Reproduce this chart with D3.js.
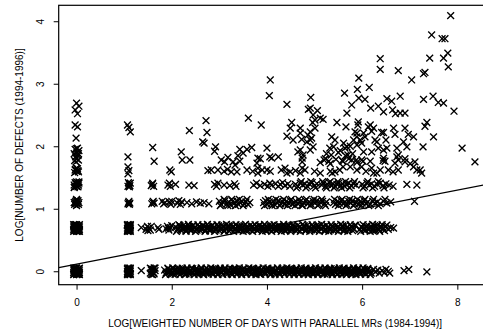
<!DOCTYPE html>
<html>
<head>
<meta charset="utf-8">
<script src="https://cdn.jsdelivr.net/npm/d3@7"></script>
<style>
  html, body { margin: 0; padding: 0; background: #fff; }
  svg { display: block; }
</style>
</head>
<body>
<svg id="chart" width="483" height="335"></svg>
<script>
// Axis ticks and titles
const xTicks = [0, 2, 4, 6, 8];
const yTicks = [0, 1, 2, 3, 4];
const xTitle = "LOG[WEIGHTED NUMBER OF DAYS WITH PARALLEL MRs (1984-1994)]";
const yTitle = "LOG[NUMBER OF DEFECTS (1994-1996)]";

// Least-squares fit: defects = intercept + slope * days (log scale)
const fitIntercept = 0.113;
const fitSlope = 0.148;

// Points: [log weighted days, log defects], jittered as plotted
const oneDefect = [
  [-.05,-.04],[-.05,0],[-.05,.035],[-.025,-.02],[-.025,.02],[0,-.04],[0,0],[0,.04],[.025,-.02],[.025,.02],[.05,-.035],[.05,0],[.05,.04],[-.04,.01],[.04,-.01],
  [-.06,-.055],[-.06,.05],[.06,-.055],[.06,.05],[0,-.055],[0,.055],[-.03,.05],[.03,-.05],[-.015,0],[.015,0],
  [-.06,-.02],[-.06,.02],[.06,-.02],[.06,.02],[-.03,-.035],[.03,.035],[-.045,.045],[.045,-.045],[-.015,.045],[.015,-.045],
  [1.07,-.04],[1.07,0],[1.07,.035],[1.085,-.02],[1.085,.02],[1.1,-.04],[1.1,0],[1.1,.04],[1.115,-.02],[1.115,.02],[1.13,-.035],[1.13,0],[1.13,.04],
  [1.07,-.055],[1.07,.05],[1.13,-.055],[1.13,.05],[1.1,-.055],[1.1,.055],[1.09,0],[1.11,.01],
  [1.075,-.02],[1.125,.02],[1.1,.02],[1.1,-.02],
  [1.36,.01],
  [1.55,-.03],[1.57,.02],[1.59,-.01],[1.61,.03],[1.63,-.04],[1.65,.01],[1.58,.04],[1.62,-.02],
  [1.55,.05],[1.6,-.055],[1.65,.05],[1.57,-.05],[1.63,.055],
  [1.85,.02],[1.88,-.03],[1.92,.04],[1.95,-.01],[1.99,.01],[2.02,-.04],[2.06,.03],[2.09,-.02],[2.13,0],[2.16,.04],
  [2.2,-.03],[2.23,.02],[2.27,-.01],[2.3,-.04],[2.34,.03],[2.37,0],[2.41,-.02],[2.44,.04],[2.48,.01],[2.51,-.03],
  [2.55,.02],[2.58,-.01],[2.62,.04],[2.65,-.04],[2.69,.01],[2.72,-.02],[2.76,.03],[2.79,0],[2.83,-.03],[2.86,.04],
  [2.9,-.01],[2.93,.02],[2.97,-.04],[3.0,.03],[3.04,-.02],[3.07,.01],[3.11,.04],[3.14,-.03],[3.18,0],[3.21,.02],
  [3.25,-.04],[3.28,.03],[3.32,-.01],[3.35,.04],[3.39,-.02],[3.42,.01],[3.46,-.03],[3.49,.03],[3.53,0],[3.56,-.04],
  [3.6,.02],[3.63,-.01],[3.67,.04],[3.7,-.03],[3.74,.01],[3.77,-.02],[3.81,.03],[3.84,-.04],[3.88,.02],[3.91,0],
  [3.95,-.03],[3.98,.04],[4.02,-.01],[4.05,.02],[4.09,-.04],[4.12,.03],[4.16,-.02],[4.19,.01],[4.23,.04],[4.26,-.03],
  [4.3,0],[4.33,.02],[4.37,-.04],[4.4,.03],[4.44,-.01],[4.47,.04],[4.51,-.02],[4.54,.01],[4.58,-.03],[4.61,.03],
  [4.65,0],[4.68,-.04],[4.72,.02],[4.75,-.01],[4.79,.04],[4.82,-.03],[4.86,.01],[4.89,-.02],[4.93,.03],[4.96,-.04],
  [5.0,.02],[5.03,0],[5.07,-.03],[5.1,.04],[5.14,-.01],[5.17,.02],[5.21,-.04],[5.24,.03],[5.28,-.02],[5.31,.01],
  [5.35,.04],[5.38,-.03],[5.42,0],[5.45,.02],[5.49,-.04],[5.52,.03],[5.56,-.01],[5.59,.04],[5.63,-.02],[5.66,.01],
  [5.7,-.03],[5.73,.03],[5.77,0],[5.8,-.04],[5.84,.02],[5.87,-.01],[5.91,.04],[5.94,-.03],[5.98,.01],[6.01,-.02],
  [6.05,.03],[6.08,-.04],[6.12,.02],[6.15,0],[6.19,-.03],
  [1.87,-.055],[1.92,.05],[1.97,-.045],[2.02,.055],[2.07,-.05],[2.12,.045],[2.17,-.055],[2.22,.05],[2.27,-.05],[2.32,.055],
  [2.37,-.045],[2.42,.05],[2.47,-.055],[2.52,.045],[2.57,-.05],[2.62,.055],[2.67,-.055],[2.72,.05],[2.77,-.045],[2.82,.055],
  [2.87,-.05],[2.92,.045],[2.97,-.055],[3.02,.05],[3.07,-.05],[3.12,.055],[3.17,-.045],[3.22,.05],[3.27,-.055],[3.32,.045],
  [3.37,-.05],[3.42,.055],[3.47,-.055],[3.52,.05],[3.57,-.045],[3.62,.055],[3.67,-.05],[3.72,.045],[3.77,-.055],[3.82,.05],
  [3.87,-.05],[3.92,.055],[3.97,-.045],[4.02,.05],[4.07,-.055],[4.12,.045],[4.17,-.05],[4.22,.055],[4.27,-.055],[4.32,.05],
  [4.37,-.045],[4.42,.055],[4.47,-.05],[4.52,.045],[4.57,-.055],[4.62,.05],[4.67,-.05],[4.72,.055],[4.77,-.045],[4.82,.05],
  [4.87,-.055],[4.92,.045],[4.97,-.05],[5.02,.055],[5.07,-.055],[5.12,.05],[5.17,-.045],[5.22,.055],[5.27,-.05],[5.32,.045],
  [5.37,-.055],[5.42,.05],[5.47,-.05],[5.52,.055],[5.57,-.045],[5.62,.05],[5.67,-.055],[5.72,.045],[5.77,-.05],[5.82,.055],
  [5.87,-.055],[5.92,.05],[5.97,-.045],[6.02,.055],[6.07,-.05],[6.12,.045],[6.17,-.055],
  [1.9,-.015],[1.95,.02],[2.0,-.025],[2.05,.01],[2.1,.025],[2.15,-.01],[2.2,.015],[2.25,-.02],[2.3,.02],[2.35,-.015],
  [2.4,.01],[2.45,-.025],[2.5,.025],[2.55,-.01],[2.6,.015],[2.65,-.02],[2.7,.02],[2.75,-.015],[2.8,.01],[2.85,-.025],
  [2.9,.025],[2.95,-.01],[3.0,.015],[3.05,-.02],[3.1,.02],[3.15,-.015],[3.2,.01],[3.25,-.025],[3.3,.025],[3.35,-.01],
  [3.4,.015],[3.45,-.02],[3.5,.02],[3.55,-.015],[3.6,.01],[3.65,-.025],[3.7,.025],[3.75,-.01],[3.8,.015],[3.85,-.02],
  [3.9,.02],[3.95,-.015],[4.0,.01],[4.05,-.025],[4.1,.025],[4.15,-.01],[4.2,.015],[4.25,-.02],[4.3,.02],[4.35,-.015],
  [4.4,.01],[4.45,-.025],[4.5,.025],[4.55,-.01],[4.6,.015],[4.65,-.02],[4.7,.02],[4.75,-.015],[4.8,.01],[4.85,-.025],
  [4.9,.025],[4.95,-.01],[5.0,.015],[5.05,-.02],[5.1,.02],[5.15,-.015],[5.2,.01],[5.25,-.025],[5.3,.025],[5.35,-.01],
  [5.4,.015],[5.45,-.02],[5.5,.02],[5.55,-.015],[5.6,.01],[5.65,-.025],[5.7,.025],[5.75,-.01],[5.8,.015],[5.85,-.02],
  [5.9,.02],[5.95,-.015],[6.0,.01],[6.05,-.025],[6.1,.025],[6.15,-.01],
  [6.24,.03],[6.28,-.01],[6.33,.02],[6.36,-.03],[6.42,.01],[6.47,-.02],[6.5,.03],[6.55,0],[6.58,-.03],
  [6.88,.01],[6.98,.03],[7.36,-.01]
];

const twoDefects = [
  [-.05,.65],[-.05,.69],[-.05,.73],[-.025,.67],[-.025,.71],[0,.65],[0,.69],[0,.73],[.025,.67],[.025,.71],[.05,.66],[.05,.69],[.05,.73],[-.04,.70],[.04,.68],
  [-.06,.64],[-.06,.745],[.06,.64],[.06,.745],[0,.64],[0,.745],[-.03,.745],[.03,.64],[-.015,.69],[.015,.69],
  [-.06,.67],[-.06,.71],[.06,.67],[.06,.71],[-.03,.655],[.03,.73],[-.045,.74],[.045,.645],[-.015,.74],[.015,.645],
  [1.07,.65],[1.07,.69],[1.07,.73],[1.085,.67],[1.085,.71],[1.1,.65],[1.1,.69],[1.1,.73],[1.115,.67],[1.115,.71],[1.13,.66],[1.13,.69],[1.13,.73],
  [1.07,.64],[1.07,.745],[1.13,.64],[1.13,.745],[1.1,.64],[1.1,.745],[1.09,.69],[1.11,.70],
  [1.075,.67],[1.125,.71],[1.1,.71],[1.1,.67],
  [1.36,.70],
  [1.46,.67],[1.49,.72],[1.52,.69],[1.55,.66],[1.57,.72],[1.5,.65],
  [1.71,.70],[1.73,.67],
  [1.88,.68],[1.91,.72],[1.94,.66],[1.97,.70],[2.0,.73],[1.93,.69],
  [2.08,.71],[2.12,.66],[2.17,.73],[2.21,.68],[2.26,.70],[2.3,.65],[2.35,.72],[2.39,.67],[2.44,.73],[2.48,.69],
  [2.53,.66],[2.57,.71],[2.62,.68],[2.66,.73],[2.71,.65],[2.75,.70],[2.8,.67],[2.84,.72],[2.89,.69],[2.93,.66],
  [2.98,.73],[3.02,.68],[3.07,.71],[3.11,.65],[3.16,.70],[3.2,.73],[3.25,.67],[3.29,.72],[3.34,.69],[3.38,.66],
  [3.43,.71],[3.47,.68],[3.52,.73],[3.56,.65],[3.61,.70],[3.65,.67],[3.7,.72],[3.74,.69],[3.79,.66],[3.83,.73],
  [3.88,.68],[3.92,.71],[3.97,.65],[4.01,.70],[4.06,.67],[4.1,.73],[4.15,.69],[4.19,.66],[4.24,.72],[4.28,.68],
  [4.33,.71],[4.37,.65],[4.42,.70],[4.46,.73],[4.51,.67],[4.55,.72],[4.6,.69],[4.64,.66],[4.69,.71],[4.73,.68],
  [4.78,.73],[4.82,.65],[4.87,.70],[4.91,.67],[4.96,.72],[5.0,.69],[5.05,.66],[5.09,.73],[5.14,.68],[5.18,.71],
  [5.23,.65],[5.27,.70],[5.32,.67],[5.36,.72],[5.41,.69],[5.45,.66],[5.5,.71],[5.54,.68],[5.59,.73],[5.63,.65],
  [5.68,.70],[5.72,.67],[5.77,.72],[5.81,.69],[5.86,.73],
  [5.95,.67],[5.99,.71],[6.04,.66],[6.08,.72],[6.13,.68],[6.17,.70],[6.22,.65],[6.26,.73],[6.31,.69],[6.35,.66],
  [6.4,.71],[6.44,.68],[6.49,.72],[6.55,.67],[6.6,.70],[6.66,.69],
  [2.1,.64],[2.15,.745],[2.2,.65],[2.25,.74],[2.3,.64],[2.35,.75],[2.4,.645],[2.45,.74],[2.5,.64],[2.55,.745],
  [2.6,.65],[2.65,.74],[2.7,.64],[2.75,.75],[2.8,.645],[2.85,.74],[2.9,.64],[2.95,.745],[3.0,.65],[3.05,.74],
  [3.1,.64],[3.15,.75],[3.2,.645],[3.25,.74],[3.3,.64],[3.35,.745],[3.4,.65],[3.45,.74],[3.5,.64],[3.55,.75],
  [3.6,.645],[3.65,.74],[3.7,.64],[3.75,.745],[3.8,.65],[3.85,.74],[3.9,.64],[3.95,.75],[4.0,.645],[4.05,.74],
  [4.1,.64],[4.15,.745],[4.2,.65],[4.25,.74],[4.3,.64],[4.35,.75],[4.4,.645],[4.45,.74],[4.5,.64],[4.55,.745],
  [4.6,.65],[4.65,.74],[4.7,.64],[4.75,.75],[4.8,.645],[4.85,.74],[4.9,.64],[4.95,.745],[5.0,.65],[5.05,.74],
  [5.1,.64],[5.15,.75],[5.2,.645],[5.25,.74],[5.3,.64],[5.35,.745],[5.4,.65],[5.45,.74],[5.5,.64],[5.55,.75],
  [5.6,.645],[5.65,.74],[5.7,.64],[5.75,.745],[5.8,.65],[5.85,.74],
  [5.97,.64],[6.02,.745],[6.07,.65],[6.12,.74],[6.17,.64],[6.22,.75],[6.27,.645],[6.32,.74],[6.37,.64],[6.42,.745],[6.47,.65],[6.52,.74],
  [2.13,.68],[2.18,.71],[2.23,.675],[2.28,.705],[2.33,.685],[2.38,.715],[2.43,.67],[2.48,.70],[2.53,.68],[2.58,.71],
  [2.63,.675],[2.68,.705],[2.73,.685],[2.78,.715],[2.83,.67],[2.88,.70],[2.93,.68],[2.98,.71],[3.03,.675],[3.08,.705],
  [3.13,.685],[3.18,.715],[3.23,.67],[3.28,.70],[3.33,.68],[3.38,.71],[3.43,.675],[3.48,.705],[3.53,.685],[3.58,.715],
  [3.63,.67],[3.68,.70],[3.73,.68],[3.78,.71],[3.83,.675],[3.88,.705],[3.93,.685],[3.98,.715],[4.03,.67],[4.08,.70],
  [4.13,.68],[4.18,.71],[4.23,.675],[4.28,.705],[4.33,.685],[4.38,.715],[4.43,.67],[4.48,.70],[4.53,.68],[4.58,.71],
  [4.63,.675],[4.68,.705],[4.73,.685],[4.78,.715],[4.83,.67],[4.88,.70],[4.93,.68],[4.98,.71],[5.03,.675],[5.08,.705],
  [5.13,.685],[5.18,.715],[5.23,.67],[5.28,.70],[5.33,.68],[5.38,.71],[5.43,.675],[5.48,.705],[5.53,.685],[5.58,.715],
  [5.63,.67],[5.68,.70],[5.73,.68],[5.78,.71],[5.83,.675],
  [6.0,.70],[6.05,.68],[6.1,.71],[6.15,.675],[6.2,.705],[6.25,.685],[6.3,.715],[6.35,.67],[6.4,.70],[6.45,.68]
];

const threeDefects = [
  [-.04,1.07],[-.02,1.12],[0,1.08],[.02,1.11],[.04,1.07],[-.03,1.1],[.03,1.13],[0,1.13],
  [-.05,1.1],[.05,1.1],[0,1.05],[0,1.15],
  [1.08,1.08],[1.1,1.12],[1.12,1.09],[1.09,1.1],[1.11,1.07],
  [1.58,1.08],[1.61,1.12],[1.63,1.09],[1.6,1.1],
  [1.8,1.12],[1.83,1.08],[1.86,1.1],[1.95,1.11],[1.98,1.07],[2.0,1.12],
  [2.12,1.09],[2.15,1.13],[2.18,1.07],[2.21,1.11],
  [2.32,1.1],[2.42,1.08],[2.52,1.11],[2.6,1.09],[2.68,1.1],[2.78,1.08],
  [3.0,1.12],[3.04,1.07],[3.08,1.1],[3.12,1.13],[3.16,1.08],[3.2,1.11],[3.24,1.06],[3.28,1.12],[3.32,1.09],
  [3.36,1.13],[3.4,1.07],[3.44,1.1],[3.48,1.12],[3.52,1.08],[3.56,1.11],[3.6,1.07],[3.64,1.1],
  [3.02,1.05],[3.1,1.15],[3.18,1.05],[3.26,1.15],[3.34,1.05],[3.42,1.15],[3.5,1.05],[3.58,1.15],
  [3.93,1.1],[3.97,1.13],[4.01,1.07],[4.05,1.11],[4.09,1.08],[4.13,1.12],[4.17,1.06],[4.21,1.1],[4.25,1.13],
  [4.29,1.08],[4.33,1.11],[4.37,1.07],[4.41,1.12],[4.45,1.09],[4.49,1.13],[4.53,1.07],[4.57,1.1],[4.61,1.12],
  [4.65,1.08],[4.69,1.11],[4.73,1.06],[4.77,1.1],[4.81,1.13],[4.85,1.08],[4.89,1.11],[4.93,1.07],[4.97,1.12],
  [5.01,1.09],[5.05,1.13],[5.09,1.07],[5.13,1.1],[5.17,1.12],[5.21,1.08],[5.25,1.11],
  [3.95,1.05],[4.03,1.15],[4.11,1.05],[4.19,1.15],[4.27,1.05],[4.35,1.15],[4.43,1.05],[4.51,1.15],[4.59,1.05],
  [4.67,1.15],[4.75,1.05],[4.83,1.15],[4.91,1.05],[4.99,1.15],[5.07,1.05],[5.15,1.15],[5.23,1.05],
  [5.4,1.1],[5.44,1.07],[5.48,1.12],[5.52,1.09],[5.56,1.13],[5.6,1.08],[5.64,1.11],[5.68,1.07],[5.72,1.12],
  [5.76,1.09],[5.8,1.13],[5.84,1.08],[5.88,1.1],[5.92,1.07],[5.96,1.12],[6.0,1.09],[6.04,1.13],[6.08,1.08],
  [6.12,1.11],[6.17,1.07],[6.22,1.12],[6.27,1.09],[6.32,1.11],[6.38,1.08],[6.45,1.12],[6.52,1.09],[6.6,1.11],
  [5.42,1.15],[5.5,1.05],[5.58,1.15],[5.66,1.05],[5.74,1.15],[5.82,1.05],[5.9,1.15],[5.98,1.05],[6.06,1.15],
  [6.14,1.05],[6.24,1.15],[6.34,1.05],[6.48,1.15],
  [7.1,1.12]
];

const fourDefects = [
  [-.04,1.35],[-.02,1.4],[0,1.36],[.02,1.42],[.04,1.38],[-.03,1.42],[.03,1.35],[0,1.4],[-.05,1.38],[.05,1.41],
  [-.05,1.34],[.05,1.43],[0,1.43],
  [1.08,1.36],[1.1,1.4],[1.12,1.37],[1.09,1.42],[1.11,1.35],[1.13,1.41],
  [1.57,1.37],[1.6,1.41],[1.62,1.36],[1.59,1.39],
  [1.92,1.38],[1.95,1.41],[1.97,1.36],[2.08,1.39],
  [2.36,1.38],[2.47,1.37],
  [2.9,1.39],[2.94,1.36],[2.97,1.41],[3.1,1.38],[3.22,1.37],[3.32,1.4],[3.35,1.36],
  [3.72,1.38],[3.78,1.41],[3.86,1.37],[3.95,1.39],[4.02,1.36],[4.06,1.41],[4.1,1.38],[4.18,1.4],[4.24,1.36],
  [4.28,1.39],[4.33,1.42],[4.38,1.37],[4.44,1.4],[4.48,1.36],
  [4.6,1.39],[4.65,1.36],[4.7,1.41],[4.75,1.38],[4.8,1.4],[4.85,1.36],[4.9,1.39],[4.95,1.42],[5.0,1.37],[5.05,1.4],
  [5.15,1.38],[5.19,1.41],[5.23,1.36],[5.27,1.39],[5.31,1.42],[5.35,1.37],[5.39,1.4],[5.43,1.36],[5.47,1.39],
  [5.51,1.41],[5.55,1.37],[5.59,1.4],[5.63,1.36],[5.67,1.39],[5.72,1.41],[5.77,1.37],[5.82,1.4],[5.87,1.38],
  [4.62,1.335],[4.72,1.435],[4.82,1.335],[4.92,1.435],[5.02,1.335],[5.17,1.435],[5.25,1.335],[5.33,1.435],
  [5.41,1.335],[5.49,1.435],[5.57,1.335],[5.65,1.435],[5.74,1.335],[5.84,1.435],
  [6.0,1.39],[6.05,1.36],[6.1,1.41],[6.15,1.38],[6.2,1.4],[6.26,1.36],[6.32,1.39],[6.38,1.41],[6.44,1.37],
  [6.5,1.4],[6.57,1.38],[6.65,1.36],
  [6.02,1.335],[6.12,1.435],[6.22,1.335],[6.34,1.435],[6.46,1.335],
  [6.94,1.39],[7.15,1.38]
];

const fiveDefects = [
  [-.04,1.58],[-.02,1.63],[0,1.6],[.02,1.64],[.04,1.59],[-.03,1.62],[.03,1.61],[0,1.65],
  [1.08,1.67],[1.1,1.61],[1.08,1.56],
  [1.96,1.62],[1.99,1.59],
  [2.76,1.61],[2.83,1.62],[2.97,1.62],[3.1,1.6],[3.17,1.63],[3.25,1.59],[3.33,1.70],[3.37,1.59],
  [3.58,1.62],[3.7,1.6],[3.81,1.65],[3.81,1.57],[3.9,1.62],[4.0,1.62],[4.07,1.6],
  [4.3,1.62],[4.38,1.65],[4.49,1.59],[4.42,1.57],[4.6,1.61],[4.74,1.65],[4.7,1.57],[4.8,1.62],
  [5.0,1.6],[5.12,1.57],[5.33,1.6],[5.37,1.57],[5.43,1.59],[5.53,1.62],[5.6,1.67],[5.75,1.67],[5.89,1.62],
  [5.99,1.67],[6.08,1.6],[6.2,1.65],[6.24,1.57],[6.31,1.57],[6.38,1.62],[6.55,1.62],[6.65,1.59],[6.76,1.62],
  [7.08,1.67],[7.15,1.62],[7.22,1.62],[7.25,1.57]
];

const sixOrMore = [
  [-.04,1.77],[0,1.8],[.04,1.78],[-.02,1.83],[.03,1.85],[-.05,1.88],[.01,1.9],[.05,1.93],[-.03,1.95],[.02,1.97],[-.01,1.75],[.04,1.88],[0,1.96],
  [-.01,2.13],[-.03,2.34],[.02,2.31],[-.03,2.58],[0,2.69],[.05,2.64],[.02,2.52],
  [1.07,2.34],[1.1,2.3],[1.13,2.23],[1.08,1.83],
  [1.6,1.98],[1.63,1.76],
  [2.2,1.91],[2.22,1.78],[2.38,1.78],[2.37,2.25],[2.72,2.41],[2.74,2.22],[2.68,2.05],[2.65,2.07],[2.92,1.99],[2.9,1.92],
  [3.04,1.78],[3.11,1.75],[3.18,1.82],[3.29,1.75],[3.39,1.85],[3.43,1.76],[3.43,1.95],[3.58,1.95],[3.68,1.98],[3.5,1.89],
  [3.61,2.45],[3.88,2.34],[3.81,1.81],[3.79,1.73],[3.86,1.8],[4.0,1.97],[4.1,1.81],[4.24,1.83],[4.06,1.83],
  [4.07,3.06],[4.05,2.81],[4.42,2.67],[4.52,2.38],[4.49,2.29],[4.42,2.16],[4.55,2.1],[4.65,1.91],[4.7,1.94],
  [4.76,1.86],[4.74,1.75],[4.74,1.81],[4.7,2.29],[4.7,2.21],[4.73,2.11],[4.87,2.59],[4.92,2.78],[4.91,2.61],[4.97,2.5],
  [5.06,2.57],[5.12,2.45],[5.18,2.43],[5.01,2.42],[4.96,2.38],[5.01,2.29],[4.86,2.18],[4.91,2.1],[4.84,2.07],[4.94,2.13],
  [4.91,1.94],[4.91,2.23],[4.97,1.99],[5.47,2.38],[5.66,2.31],[5.78,2.66],[5.68,2.53],[5.63,2.85],[5.36,2.15],[5.4,1.99],
  [5.43,2.1],[5.32,1.97],[5.61,2.05],[5.68,1.99],[5.64,1.97],[5.82,2.1],[5.75,2.0],[5.85,2.23],[5.89,2.21],[5.89,2.15],
  [5.89,2.02],[5.93,3.09],[5.9,2.91],[5.93,2.77],[5.92,2.39],[5.91,2.34],[5.96,2.1],[5.99,2.05],[6.03,2.21],[6.06,2.15],
  [6.06,2.75],[6.15,2.94],[6.18,2.61],[6.34,2.64],[6.45,2.55],[6.64,2.58],[6.7,2.52],[6.8,2.53],[6.9,2.53],
  [6.38,3.4],[6.38,3.23],[6.76,3.21],[7.04,3.06],[7.29,3.16],[7.32,3.18],[6.52,2.76],[6.62,2.72],[6.8,2.8],
  [7.29,2.75],[7.49,2.8],[7.6,2.7],[7.71,2.69],[7.93,2.56],[7.86,4.09],[7.46,3.78],[7.68,3.72],[7.74,3.72],
  [7.42,3.41],[7.8,3.49],[7.71,3.41],[7.81,3.27],[6.17,2.34],[6.24,2.29],[6.13,2.31],[6.2,2.24],[6.45,2.22],
  [6.66,2.29],[6.69,2.19],[6.9,2.29],[6.97,2.19],[7.08,2.15],[7.5,2.15],[7.36,2.38],[7.32,2.32],[6.27,2.1],
  [6.41,2.22],[6.5,2.1],[6.52,1.97],[6.31,2.07],[6.34,1.97],[6.45,1.94],[6.73,1.97],[6.76,1.86],[6.87,2.07],
  [6.94,1.99],[7.28,1.99],[8.1,1.97],[8.37,1.75],
  [5.78,1.78],[5.88,1.78],[5.99,1.78],[6.17,1.76],[6.2,1.91],[6.03,1.91],[6.45,1.81],[6.48,1.76],[6.73,1.83],
  [6.76,1.78],[6.69,1.73],[6.9,1.75],[7.11,1.75],[7.01,1.72],
  [5.25,1.88],[5.35,1.86],[5.5,1.9],[5.65,1.85],[5.8,1.88],[5.2,1.78],[5.3,1.76],[5.45,1.79],[5.58,1.77],[5.72,1.8],
  [5.12,1.74],[5.23,1.8],[5.33,1.72],[5.54,1.93],[5.6,1.76],[5.7,1.86],[5.89,1.74],[6.02,1.76],[6.44,1.77],[6.9,1.8]
];

const points = [].concat(oneDefect, twoDefects, threeDefects, fourDefects, fiveDefects, sixOrMore);

// Plot frame in data units (R-style 4% padding; the right side runs past the window)
const xFrame = [-0.375, 8.72];
const yFrame = [-0.215, 4.255];

const svg = d3.select("#chart");
svg.append("rect").attr("width", 483).attr("height", 335).attr("fill", "#fff");

const x = d3.scaleLinear().domain(xFrame).range([58.7, 491.6]);
const y = d3.scaleLinear().domain(yFrame).range([284.7, 5.3]);

const font = "'Liberation Sans', Arial, Helvetica, sans-serif";

svg.append("clipPath").attr("id", "plotClip")
  .append("rect")
  .attr("x", x(xFrame[0])).attr("y", y(yFrame[1]))
  .attr("width", x(xFrame[1]) - x(xFrame[0]))
  .attr("height", y(yFrame[0]) - y(yFrame[1]));

const plot = svg.append("g").attr("clip-path", "url(#plotClip)");

// Cross markers (pch = 4)
const s = 3.4;
const cross = `M${-s},${-s}L${s},${s}M${-s},${s}L${s},${-s}`;
plot.append("g")
  .selectAll("path")
  .data(points)
  .join("path")
  .attr("d", cross)
  .attr("transform", d => `translate(${x(d[0])},${y(d[1])})`)
  .attr("fill", "none")
  .attr("stroke", "#000")
  .attr("stroke-width", 1.35);

// Fitted line
plot.append("line")
  .attr("x1", x(xFrame[0])).attr("y1", y(fitIntercept + fitSlope * xFrame[0]))
  .attr("x2", x(xFrame[1])).attr("y2", y(fitIntercept + fitSlope * xFrame[1]))
  .attr("stroke", "#000").attr("stroke-width", 1.2);

// Box
svg.append("rect")
  .attr("x", x(xFrame[0])).attr("y", y(yFrame[1]))
  .attr("width", x(xFrame[1]) - x(xFrame[0]))
  .attr("height", y(yFrame[0]) - y(yFrame[1]))
  .attr("fill", "none").attr("stroke", "#000").attr("stroke-width", 1.2);

// X axis
const xAxis = svg.append("g")
  .attr("transform", `translate(0,${y(yFrame[0])})`)
  .call(d3.axisBottom(x).tickValues(xTicks).tickSize(5).tickPadding(9).tickFormat(d3.format("d")));
xAxis.select(".domain").remove();
xAxis.selectAll("line").attr("stroke", "#000");
xAxis.selectAll("text").attr("font-family", font).attr("font-size", 10).attr("fill", "#000");

// Y axis with labels parallel to the axis
const yAxis = svg.append("g")
  .attr("transform", `translate(${x(xFrame[0])},0)`)
  .call(d3.axisLeft(y).tickValues(yTicks).tickSize(5).tickFormat(d3.format("d")));
yAxis.select(".domain").remove();
yAxis.selectAll("line").attr("stroke", "#000");
yAxis.selectAll("text")
  .attr("font-family", font).attr("font-size", 10).attr("fill", "#000")
  .attr("x", null).attr("dy", null)
  .attr("text-anchor", "middle")
  .attr("transform", `translate(${43.5 - x(xFrame[0])},0) rotate(-90)`);

// Titles
svg.append("text")
  .attr("x", (x(xFrame[0]) + x(xFrame[1])) / 2).attr("y", 327)
  .attr("text-anchor", "middle")
  .attr("font-family", font).attr("font-size", 10).attr("fill", "#000")
  .text(xTitle);

svg.append("text")
  .attr("transform", `translate(23,${(y(yFrame[0]) + y(yFrame[1])) / 2}) rotate(-90)`)
  .attr("text-anchor", "middle")
  .attr("font-family", font).attr("font-size", 10).attr("fill", "#000")
  .text(yTitle);
</script>
</body>
</html>
